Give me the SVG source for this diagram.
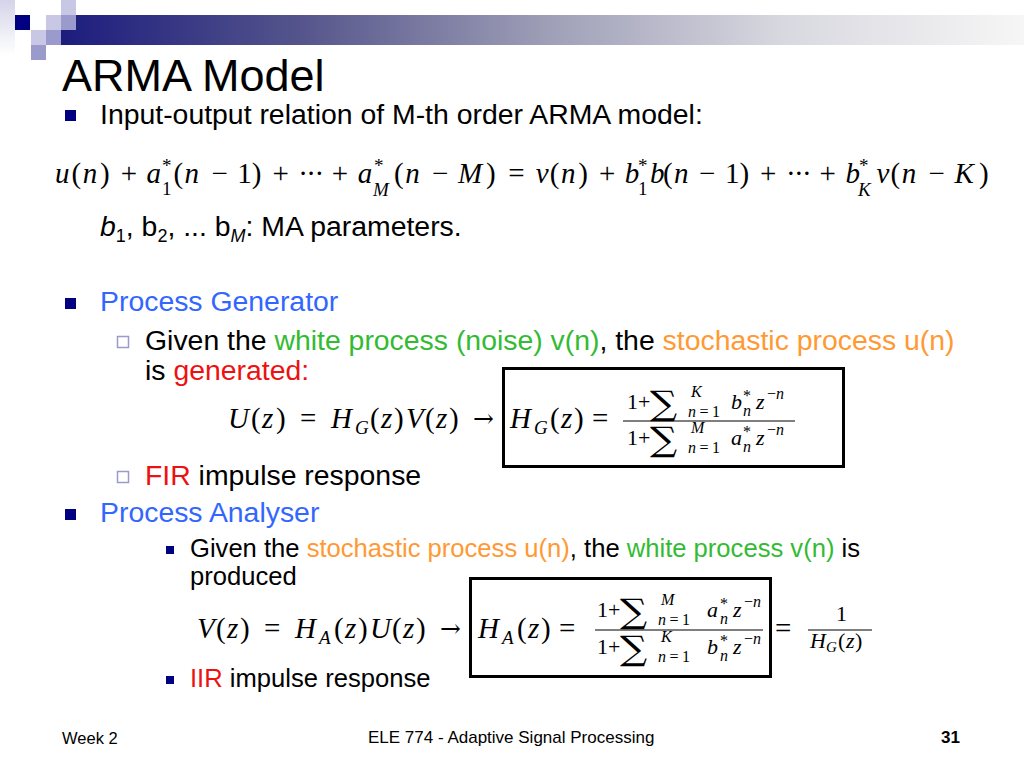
<svg xmlns="http://www.w3.org/2000/svg" width="1024" height="768" viewBox="0 0 1024 768">
<defs>
<linearGradient id="bar" x1="61" y1="0" x2="1024" y2="0" gradientUnits="userSpaceOnUse">
<stop offset="0" stop-color="#1c1c7e"/>
<stop offset="0.25" stop-color="#55558c"/>
<stop offset="0.5" stop-color="#9d9db6"/>
<stop offset="0.75" stop-color="#d8d8e0"/>
<stop offset="1" stop-color="#f6f6f6"/>
</linearGradient>
<linearGradient id="strip" x1="0" y1="0" x2="0" y2="1">
<stop offset="0" stop-color="#d4d4ea"/>
<stop offset="1" stop-color="#ffffff"/>
</linearGradient>
<style>
.t{font-family:"Liberation Sans",Arial,sans-serif;}
.m{font-family:"Liberation Serif","Times New Roman",serif;}
.s{font-family:"DejaVu Serif","Liberation Serif",serif;}
.i{font-style:italic;}
.sc{font-size:19px;}
.ss{font-size:16px;}
.nav{fill:#000080;}
.hol{fill:none;stroke:#9a9acc;stroke-width:1.5;}
.blue{fill:#3366ff;}
.green{fill:#33bb33;}
.orange{fill:#ff9933;}
.red{fill:#ee1111;}
.box{fill:none;stroke:#000;stroke-width:3;}
.fr{stroke:#000;stroke-width:1.2;}
</style>
</defs>
<rect width="1024" height="768" fill="#ffffff"/>

<g id="header">
<rect x="0" y="0" width="15" height="55" fill="url(#strip)"/>
<rect x="61" y="30" width="963" height="15" fill="url(#bar)"/>
<rect x="76" y="15" width="948" height="15" fill="url(#bar)"/>
<rect x="15" y="15" width="15" height="15" fill="#000080"/>
<rect x="46" y="15" width="15" height="15" fill="#c8c8e4"/>
<rect x="61" y="0" width="15" height="15" fill="#c8c8e4"/>
<rect x="61" y="15" width="15" height="15" fill="#9a9acc"/>
<rect x="31" y="30" width="15" height="15" fill="#c8c8e4"/>
<rect x="46" y="30" width="15" height="15" fill="#9a9acc"/>
<rect x="31" y="45" width="15" height="15" fill="#9a9acc"/>
</g>

<text class="t" x="62" y="91" font-size="45">ARMA Model</text>

<g id="line1" class="t" font-size="28.4">
<rect class="nav" x="65" y="110" width="11" height="11"/>
<text x="100" y="124">Input-output relation of M-th order ARMA model:</text>
</g>

<g id="eq1" class="m" font-size="29">
<text y="183"><tspan class="i" x="55">u</tspan><tspan x="71.5">(</tspan><tspan class="i" x="82.7">n</tspan><tspan x="100.1">)</tspan></text>
<text x="120.7" y="183">+</text>
<text x="146.6" y="183" class="i">a</text>
<text x="162" y="172" class="sc">*</text>
<text x="162" y="195" class="sc">1</text>
<text y="183"><tspan x="173.4">(</tspan><tspan class="i" x="184.6">n</tspan><tspan x="211.4">−</tspan><tspan x="237.3">1</tspan><tspan x="251.8">)</tspan></text>
<text x="272.4" y="183">+</text>
<text y="183"><tspan x="298.3">·</tspan><tspan x="306.3">·</tspan><tspan x="314.4">·</tspan></text>
<text x="331.8" y="183">+</text>
<text x="357.7" y="183" class="i">a</text>
<text x="374" y="172" class="sc">*</text>
<text x="373" y="196" class="sc i">M</text>
<text y="183"><tspan x="394.1">(</tspan><tspan class="i" x="405.3">n</tspan><tspan x="432.1">−</tspan><tspan class="i" x="458">M</tspan><tspan x="486">)</tspan></text>
<text x="508.2" y="183">=</text>
<text y="183"><tspan class="i" x="535.7">v</tspan><tspan x="549.7">(</tspan><tspan class="i" x="560.9">n</tspan><tspan x="578.3">)</tspan></text>
<text x="598.9" y="183">+</text>
<text x="624.8" y="183" class="i">b</text>
<text x="638" y="172" class="sc">*</text>
<text x="638" y="195" class="sc">1</text>
<text y="183"><tspan class="i" x="650">b</tspan><tspan x="663">(</tspan><tspan class="i" x="674">n</tspan><tspan x="699.1">−</tspan><tspan x="725">1</tspan><tspan x="739.5">)</tspan></text>
<text x="760.1" y="183">+</text>
<text y="183"><tspan x="786">·</tspan><tspan x="794">·</tspan><tspan x="802.1">·</tspan></text>
<text x="819.5" y="183">+</text>
<text x="845.4" y="183" class="i">b</text>
<text x="859" y="172" class="sc">*</text>
<text x="858" y="196" class="sc i">K</text>
<text y="183"><tspan class="i" x="876.5">v</tspan><tspan x="890.5">(</tspan><tspan class="i" x="901.7">n</tspan><tspan x="928.5">−</tspan><tspan class="i" x="954.4">K</tspan><tspan x="979">)</tspan></text>
</g>

<text class="t" x="100" y="236" font-size="28.4"><tspan class="i">b</tspan><tspan font-size="18" dy="6">1</tspan><tspan dy="-6">, b</tspan><tspan font-size="18" dy="6">2</tspan><tspan dy="-6">, ... b</tspan><tspan font-size="18" dy="6" class="i">M</tspan><tspan dy="-6">: MA parameters.</tspan></text>

<g id="generator" class="t" font-size="28.4">
<rect class="nav" x="65" y="298" width="11" height="11"/>
<text x="100" y="311" class="blue">Process Generator</text>
<rect class="hol" x="117.5" y="336.5" width="11" height="11"/>
<text x="145" y="350">Given the <tspan class="green">white process (noise) v(n)</tspan>, the <tspan class="orange">stochastic process u(n)</tspan></text>
<text x="145" y="380">is <tspan class="red">generated:</tspan></text>
<rect class="hol" x="117.5" y="471.5" width="11" height="11"/>
<text x="145" y="485"><tspan class="red">FIR</tspan> impulse response</text>
</g>

<g id="eq2" class="m" font-size="29">
<text y="428"><tspan class="i" x="228">U</tspan><tspan x="251">(</tspan><tspan class="i" x="262">z</tspan><tspan x="276">)</tspan></text>
<text x="300" y="428">=</text>
<text x="331" y="428" class="i">H</text>
<text x="355" y="434" class="sc i">G</text>
<text y="428"><tspan x="370">(</tspan><tspan class="i" x="381">z</tspan><tspan x="394">)</tspan><tspan class="i" x="406">V</tspan><tspan x="425">(</tspan><tspan class="i" x="436">z</tspan><tspan x="449">)</tspan></text>
<text x="473" y="427" class="s" font-size="25">→</text>
<rect class="box" x="503.5" y="368.5" width="340" height="98"/>
<text x="510" y="428" class="i">H</text>
<text x="534" y="434" class="sc i">G</text>
<text y="428"><tspan x="550">(</tspan><tspan class="i" x="561">z</tspan><tspan x="574">)</tspan></text>
<text x="592" y="428">=</text>
<line class="fr" x1="623" y1="421" x2="795" y2="421"/>
<g font-size="22">
<text x="627" y="409">1+</text>
<text class="s" font-size="34" transform="translate(650,415) scale(1.12,1)">∑</text>
<text x="691" y="397" class="ss i">K</text>
<text x="688" y="417" class="ss" textLength="32"><tspan class="i">n</tspan>=1</text>
<text x="731" y="409" class="i">b</text>
<text x="743" y="401" class="ss">*</text>
<text x="743" y="416" class="ss i">n</text>
<text x="756" y="409" class="i">z</text>
<text x="767" y="399" class="ss">−<tspan class="i">n</tspan></text>
<text x="627" y="445">1+</text>
<text class="s" font-size="34" transform="translate(650,451) scale(1.12,1)">∑</text>
<text x="691" y="433" class="ss i">M</text>
<text x="688" y="453" class="ss" textLength="32"><tspan class="i">n</tspan>=1</text>
<text x="731" y="445" class="i">a</text>
<text x="743" y="437" class="ss">*</text>
<text x="743" y="452" class="ss i">n</text>
<text x="756" y="445" class="i">z</text>
<text x="767" y="435" class="ss">−<tspan class="i">n</tspan></text>
</g>
</g>

<g id="analyser" class="t">
<rect class="nav" x="65" y="509" width="11" height="11"/>
<text x="100" y="522" font-size="28.4" class="blue">Process Analyser</text>
<rect class="nav" x="166" y="546" width="8" height="8"/>
<text x="190" y="557" font-size="25.6">Given the <tspan class="orange">stochastic process u(n)</tspan>, the <tspan class="green">white process v(n)</tspan> is</text>
<text x="190" y="585" font-size="25.6">produced</text>
<rect class="nav" x="166" y="676" width="8" height="8"/>
<text x="190" y="687" font-size="25.6"><tspan class="red">IIR</tspan> impulse response</text>
</g>

<g id="eq3" class="m" font-size="29">
<text y="638"><tspan class="i" x="197">V</tspan><tspan x="216">(</tspan><tspan class="i" x="227">z</tspan><tspan x="240">)</tspan></text>
<text x="264" y="638">=</text>
<text x="295" y="638" class="i">H</text>
<text x="319" y="644" class="sc i">A</text>
<text y="638"><tspan x="334">(</tspan><tspan class="i" x="345">z</tspan><tspan x="358">)</tspan><tspan class="i" x="370">U</tspan><tspan x="392">(</tspan><tspan class="i" x="403">z</tspan><tspan x="416">)</tspan></text>
<text x="440" y="637" class="s" font-size="25">→</text>
<rect class="box" x="470.5" y="578.5" width="300" height="98"/>
<text x="478" y="638" class="i">H</text>
<text x="502" y="644" class="sc i">A</text>
<text y="638"><tspan x="517">(</tspan><tspan class="i" x="528">z</tspan><tspan x="541">)</tspan></text>
<text x="559" y="638">=</text>
<line class="fr" x1="595" y1="630" x2="763" y2="630"/>
<g font-size="22">
<text x="597" y="617">1+</text>
<text class="s" font-size="34" transform="translate(620,623) scale(1.12,1)">∑</text>
<text x="661" y="605" class="ss i">M</text>
<text x="658" y="625" class="ss" textLength="32"><tspan class="i">n</tspan>=1</text>
<text x="707" y="617" class="i">a</text>
<text x="720" y="609" class="ss">*</text>
<text x="720" y="624" class="ss i">n</text>
<text x="733" y="617" class="i">z</text>
<text x="744" y="607" class="ss">−<tspan class="i">n</tspan></text>
<text x="597" y="654">1+</text>
<text class="s" font-size="34" transform="translate(620,660) scale(1.12,1)">∑</text>
<text x="661" y="642" class="ss i">K</text>
<text x="658" y="662" class="ss" textLength="32"><tspan class="i">n</tspan>=1</text>
<text x="707" y="654" class="i">b</text>
<text x="720" y="646" class="ss">*</text>
<text x="720" y="661" class="ss i">n</text>
<text x="733" y="654" class="i">z</text>
<text x="744" y="644" class="ss">−<tspan class="i">n</tspan></text>
</g>
<text x="775" y="638">=</text>
<line class="fr" x1="808" y1="630" x2="872" y2="630"/>
<text x="836" y="621" font-size="22">1</text>
<text x="810" y="648" font-size="22" class="i">H</text>
<text x="826" y="652" font-size="15" class="i">G</text>
<text y="648" font-size="22"><tspan x="838">(</tspan><tspan class="i" x="846">z</tspan><tspan x="855">)</tspan></text>
</g>

<g id="footer" class="t" font-size="16.5">
<text x="62" y="744">Week 2</text>
<text x="368" y="743" font-size="17">ELE 774 - Adaptive Signal Processing</text>
<text x="941" y="743" font-size="17" font-weight="bold">31</text>
</g>
</svg>
